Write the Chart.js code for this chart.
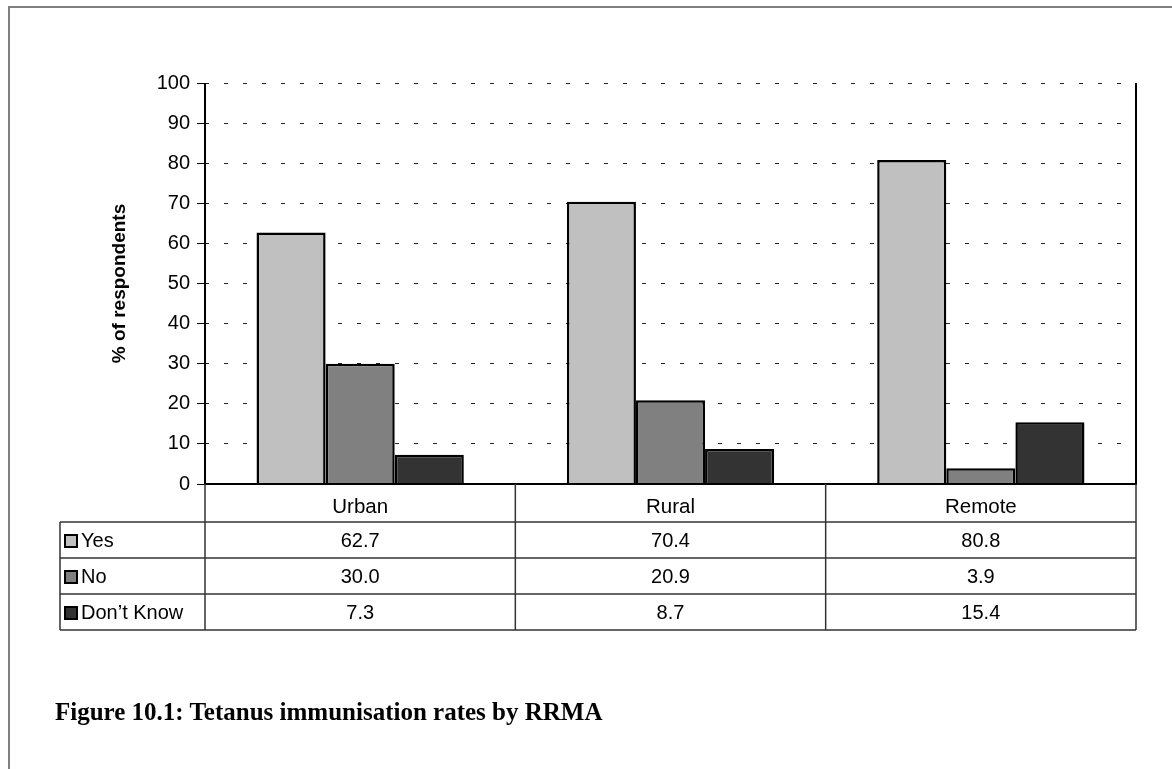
<!DOCTYPE html>
<html lang="en">
  <head>
    <meta charset="utf-8" />
    <title>Tetanus immunisation rates by RRMA</title>
    <style>
      * {
        margin: 0;
        padding: 0;
      }
      body {
        width: 1172px;
        height: 769px;
        background: #fff;
        overflow: hidden;
        position: relative;
      }
      .frame {
        position: absolute;
        left: 8px;
        top: 6px;
        width: 1200px;
        height: 800px;
        border-left: 2px solid #808080;
        border-top: 2px solid #808080;
      }
      #myChart {
        position: absolute;
        left: 0;
        top: 0;
      }
      .caption {
        position: absolute;
        left: 55px;
        top: 698px;
        font-family: "Liberation Serif", serif;
        font-weight: bold;
        font-size: 25px;
        line-height: 28px;
        color: #000;
      }
    </style>
  </head>
  <body>
    <div class="frame"></div>
    <canvas id="myChart" width="1172" height="769"></canvas>
    <div class="caption">Figure 10.1: Tetanus immunisation rates by RRMA</div>

    <script src="https://cdn.jsdelivr.net/npm/chart.js"></script>
    <script>
      // data
      const categories = ["Urban", "Rural", "Remote"];
      const seriesNames = ["Yes", "No", "Don\u2019t Know"];
      const yesValues = [62.7, 70.4, 80.8];
      const noValues = [30.0, 20.9, 3.9];
      const dontKnowValues = [7.3, 8.7, 15.4];
      const colors = ["#c0c0c0", "#808080", "#333333"];

      const allSeries = [yesValues, noValues, dontKnowValues];
      const FONT = "'Liberation Sans', Arial, sans-serif";

      // draws the axes lines and the data table under the plot
      const dataTablePlugin = {
        id: "dataTable",
        afterDraw(chart) {
          const { ctx, chartArea, scales: { x } } = chart;
          const top = chartArea.bottom;
          const catRow = 38;
          const rowH = 36;
          const tableLeft = 60;
          const right = chartArea.right;
          ctx.save();
          ctx.setLineDash([]);

          // plot frame: left axis, bottom axis, right border
          ctx.strokeStyle = "#000";
          ctx.lineWidth = 2;
          ctx.beginPath();
          ctx.moveTo(chartArea.left, chartArea.top);
          ctx.lineTo(chartArea.left, top);
          ctx.lineTo(right, top);
          ctx.lineTo(right, chartArea.top);
          ctx.stroke();

          ctx.strokeStyle = "#333";
          ctx.lineWidth = 1.5;
          ctx.beginPath();
          // horizontal lines
          for (let r = 0; r <= 3; r++) {
            const y = top + catRow + r * rowH;
            ctx.moveTo(tableLeft, y);
            ctx.lineTo(right, y);
          }
          // column separators
          const bottom = top + catRow + 3 * rowH;
          const edges = [chartArea.left];
          for (let i = 0; i < categories.length - 1; i++) {
            edges.push((x.getPixelForValue(i) + x.getPixelForValue(i + 1)) / 2);
          }
          edges.push(right);
          edges.forEach((ex) => {
            ctx.moveTo(ex, top);
            ctx.lineTo(ex, bottom);
          });
          ctx.moveTo(tableLeft, top + catRow);
          ctx.lineTo(tableLeft, bottom);
          ctx.stroke();

          // legend keys + values
          ctx.font = "20px " + FONT;
          ctx.textBaseline = "middle";
          allSeries.forEach((vals, r) => {
            const cy = top + catRow + r * rowH + rowH / 2 + 1;
            ctx.fillStyle = colors[r];
            ctx.fillRect(65, cy - 6, 12, 12);
            ctx.strokeStyle = "#000";
            ctx.lineWidth = 2;
            ctx.strokeRect(65, cy - 6, 12, 12);
            ctx.fillStyle = "#000";
            ctx.textAlign = "left";
            ctx.fillText(seriesNames[r], 81, cy);
            ctx.textAlign = "center";
            vals.forEach((v, i) => {
              ctx.fillText(v.toFixed(1), x.getPixelForValue(i), cy);
            });
          });
          ctx.restore();
        }
      };

      const data = {
        labels: categories,
        datasets: allSeries.map((vals, i) => ({
          label: seriesNames[i],
          data: vals,
          backgroundColor: colors[i],
          borderColor: "#000",
          borderWidth: 2.5,
          barPercentage: 1,
          categoryPercentage: 0.668
        }))
      };

      const config = {
        type: "bar",
        data,
        options: {
          responsive: false,
          animation: false,
          layout: {
            padding: { left: 105, top: 83, right: 36, bottom: 139 }
          },
          plugins: {
            legend: { display: false },
            tooltip: { enabled: false }
          },
          scales: {
            x: {
              grid: { display: false },
              border: { display: false },
              ticks: {
                color: "#000",
                padding: 3,
                font: { family: FONT, size: 20.5 }
              },
              afterFit(scale) {
                scale.height = 146;
              }
            },
            y: {
              min: 0,
              max: 100,
              ticks: {
                stepSize: 10,
                color: "#000",
                padding: 7,
                font: { family: FONT, size: 20 }
              },
              grid: {
                color: "#222",
                lineWidth: 1,
                tickBorderDash: [],
                tickLength: 8,
                tickColor: "#000"
              },
              border: { display: false, dash: [4, 15] },
              title: {
                display: true,
                text: "% of respondents",
                color: "#000",
                padding: { top: 3, bottom: 0 },
                font: { family: FONT, size: 19, weight: "bold" }
              },
              afterFit(scale) {
                scale.width = 100;
              }
            }
          }
        },
        plugins: [dataTablePlugin]
      };

      const myChart = new Chart(document.getElementById("myChart"), config);
    </script>
  </body>
</html>
